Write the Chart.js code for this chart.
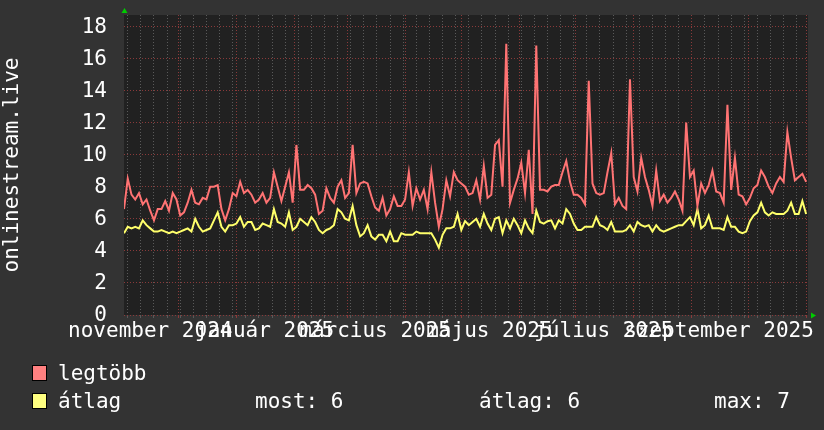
<!DOCTYPE html>
<html><head><meta charset="utf-8">
<script src="https://cdn.jsdelivr.net/npm/chart.js@4/dist/chart.umd.min.js"></script>
<style>
html,body{margin:0;padding:0;background:#333333;}
#wrap{position:relative;width:824px;height:430px;background:#333333;overflow:hidden;}
canvas{position:absolute;left:0;top:0;}
.lg{position:absolute;font-family:'DejaVu Sans Mono',monospace;font-size:21px;color:#ffffff;line-height:25px;white-space:pre;}
.sw{position:absolute;width:15px;height:16px;border:1px solid #000;box-sizing:border-box;}
</style></head><body>
<div id="wrap">
<canvas id="c" width="824" height="430"></canvas>
<div class="sw" style="left:32px;top:365px;background:#ff8080"></div>
<div class="lg" style="left:58px;top:361px">legtöbb</div>
<div class="sw" style="left:32px;top:393px;background:#ffff80"></div>
<div class="lg" style="left:58px;top:389px">átlag</div>
<div class="lg" style="left:255px;top:389px">most: 6</div>
<div class="lg" style="left:479px;top:389px">átlag: 6</div>
<div class="lg" style="left:714px;top:389px">max: 7</div>
</div>
<script>
// ---- data ----
const startDate = '2024-11-02';
const endDate = '2025-11-02';
const stepDays = 2;
const yAxisTitle = 'onlinestream.live';
const seriesNames = ['legtöbb', 'átlag'];
const maxUsers = [
6.6,8.5,7.5,7.2,7.6,6.9,7.2,6.5,5.9,6.6,6.6,7.1,6.5,7.6,7.2,6.2,6.4,7.0,7.8,7.0,
6.9,7.3,7.2,8.0,8.0,8.1,6.6,5.9,6.6,7.6,7.4,8.3,7.6,7.8,7.5,7.0,7.2,7.6,7.0,7.3,
8.9,8.0,7.1,8.0,8.9,7.0,10.6,7.8,7.8,8.1,7.9,7.5,6.3,6.5,7.9,7.3,7.0,8.0,8.4,7.3,
7.6,10.6,7.6,8.2,8.3,8.2,7.4,6.7,6.5,7.3,6.2,6.6,7.4,6.8,6.8,7.2,8.9,6.8,7.9,7.2,
7.8,6.6,8.9,7.0,5.5,6.6,8.4,7.4,8.9,8.4,8.2,8.0,7.5,7.6,8.4,7.2,9.3,7.3,7.5,10.6,
10.9,8.0,16.9,7.0,7.8,8.5,9.5,7.6,10.3,6.3,16.8,7.8,7.8,7.7,8.0,8.1,8.1,8.9,9.6,8.3,
7.5,7.5,7.3,6.9,14.6,8.2,7.6,7.5,7.6,8.9,10.1,6.9,7.3,6.8,6.6,14.7,8.6,7.7,9.8,8.6,
7.8,6.8,9.0,7.1,7.5,7.0,7.3,7.7,7.2,6.5,12.0,8.6,9.0,6.8,8.2,7.6,8.1,9.0,7.7,7.6,
7.0,13.1,7.8,9.8,7.5,7.4,6.9,7.3,7.9,8.1,9.0,8.6,8.0,7.6,8.2,8.6,8.3,11.4,9.8,8.4,
8.6,8.8,8.3
];
const avgUsers = [
5.1,5.5,5.4,5.5,5.4,5.9,5.6,5.4,5.2,5.2,5.3,5.2,5.1,5.2,5.1,5.2,5.3,5.4,5.2,6.0,
5.5,5.2,5.3,5.4,5.9,6.4,5.5,5.2,5.6,5.6,5.7,6.1,5.5,5.8,5.8,5.3,5.4,5.7,5.6,5.5,
6.6,5.8,5.7,5.5,6.4,5.3,5.5,6.0,5.8,5.6,6.1,5.8,5.3,5.1,5.3,5.4,5.6,6.6,6.4,6.0,
5.9,6.8,5.6,4.9,5.1,5.6,4.9,4.7,5.0,5.0,4.6,5.2,4.6,4.6,5.1,5.0,5.0,5.0,5.2,5.1,
5.1,5.1,5.1,4.7,4.2,5.0,5.4,5.4,5.5,6.3,5.3,5.85,5.6,5.8,6.0,5.5,6.3,5.7,5.3,6.0,
6.1,5.1,5.9,5.4,6.0,5.6,5.1,5.9,5.4,5.1,6.5,5.8,5.7,5.85,5.9,5.4,5.9,5.7,6.6,6.3,
5.7,5.3,5.3,5.5,5.5,5.5,6.1,5.6,5.5,5.3,5.8,5.2,5.2,5.2,5.3,5.6,5.2,5.8,5.6,5.5,
5.6,5.2,5.6,5.3,5.2,5.3,5.4,5.5,5.6,5.6,5.85,6.1,5.6,6.6,5.4,5.6,6.2,5.4,5.4,5.4,
5.3,6.1,5.5,5.5,5.2,5.1,5.2,5.85,6.2,6.4,7.0,6.4,6.2,6.4,6.3,6.3,6.3,6.5,7.0,6.3,
6.3,7.1,6.3
];
const monthStartDates = ['2024-12-01','2025-01-01','2025-02-01','2025-03-01','2025-04-01','2025-05-01',
  '2025-06-01','2025-07-01','2025-08-01','2025-09-01','2025-10-01','2025-11-01'];
const xTickLabels = ['november 2024','január 2025','március 2025','május 2025','július 2025','szeptember 2025'];
const xTickLabelDates = ['2024-11-16','2025-01-16','2025-03-16','2025-05-16','2025-07-16','2025-09-15T12:00'];
const firstWeekLine = '2024-11-04';
const yMin = 0, yMax = 18.7, yMinorStep = 0.5, yMajorStep = 2;

// ---- helpers ----
const DAY = 86400000;
const t0 = Date.parse(startDate + 'T00:00:00Z');
const dayOf = s => (Date.parse(s.length > 10 ? s + ':00Z' : s + 'T00:00:00Z') - t0) / DAY;
const xMax = dayOf(endDate);
const days = maxUsers.map((_, i) => i * stepDays);
const monthDays = monthStartDates.map(dayOf);
const labelDays = xTickLabelDates.map(dayOf);
const weekDays = [];
for (let d = dayOf(firstWeekLine); d <= xMax; d += 7) weekDays.push(d);

const RED_GRID = '#8a3a3a';
const GRAY_GRID = '#5a5a5a';
const FONT = {family: "'DejaVu Sans Mono', monospace", size: 21};

const xTicks = [];
weekDays.forEach(v => xTicks.push({value: v, kind: 'minor'}));
monthDays.forEach(v => xTicks.push({value: v, kind: 'major'}));
labelDays.forEach((v, i) => xTicks.push({value: v, kind: 'label', text: xTickLabels[i]}));
xTicks.sort((a, b) => a.value - b.value);

const yTicks = [];
for (let v = yMin; v <= yMax + 1e-9; v = Math.round((v + yMinorStep) * 100) / 100) yTicks.push(v);

const zeroPad = s => { s.paddingTop = 0; s.paddingBottom = 0; s.paddingLeft = 0; s.paddingRight = 0; };

const bgPlugin = {
  id: 'bg',
  beforeDraw(chart) {
    const {ctx, chartArea: a} = chart;
    ctx.save();
    ctx.fillStyle = '#333333';
    ctx.fillRect(0, 0, chart.width, chart.height);
    ctx.fillStyle = '#212121';
    ctx.fillRect(a.left, a.top, a.right - a.left, a.bottom - a.top);
    ctx.restore();
  }
};
const arrowPlugin = {
  id: 'arrows',
  afterDraw(chart) {
    const {ctx, chartArea: a} = chart;
    ctx.save();
    ctx.fillStyle = '#00cc00';
    ctx.beginPath();
    ctx.moveTo(a.left - 2.5, a.top - 2);
    ctx.lineTo(a.left + 3.5, a.top - 2);
    ctx.lineTo(a.left + 0.5, a.top - 7);
    ctx.closePath(); ctx.fill();
    ctx.beginPath();
    ctx.moveTo(a.right + 3, a.bottom - 2.5);
    ctx.lineTo(a.right + 3, a.bottom + 3.5);
    ctx.lineTo(a.right + 8, a.bottom + 0.5);
    ctx.closePath(); ctx.fill();
    ctx.restore();
  }
};

new Chart(document.getElementById('c'), {
  type: 'line',
  data: {
    datasets: [
      {label: seriesNames[0], data: days.map((d, i) => ({x: d, y: maxUsers[i]})),
       borderColor: '#ff7373', borderWidth: 2, pointRadius: 0, tension: 0, fill: false},
      {label: seriesNames[1], data: days.map((d, i) => ({x: d, y: avgUsers[i]})),
       borderColor: '#ffff6b', borderWidth: 2, pointRadius: 0, tension: 0, fill: false}
    ]
  },
  options: {
    responsive: false, animation: false, devicePixelRatio: 1,
    layout: {padding: {top: 15, right: 16, bottom: 85, left: 0}},
    plugins: {legend: {display: false}, tooltip: {enabled: false}},
    scales: {
      x: {
        type: 'linear', min: 0, max: xMax,
        afterBuildTicks: s => { s.ticks = xTicks.map(t => ({value: t.value})); },
        afterFit: s => { s.height = 30; zeroPad(s); },
        grid: {
          color: c => {
            const t = xTicks[c.index];
            if (!t) return 'rgba(0,0,0,0)';
            return t.kind === 'major' ? RED_GRID : (t.kind === 'minor' ? GRAY_GRID : 'rgba(0,0,0,0)');
          },
          drawTicks: true, tickLength: 3, lineWidth: 1
        },
        border: {display: false, dash: [1, 2]},
        ticks: {
          autoSkip: false, maxRotation: 0, minRotation: 0, padding: 1,
          color: '#ffffff', font: FONT,
          callback: (v, i) => (xTicks[i] && xTicks[i].kind === 'label') ? xTicks[i].text : ''
        }
      },
      y: {
        min: yMin, max: yMax,
        afterBuildTicks: s => { s.ticks = yTicks.map(v => ({value: v})); },
        afterFit: s => { s.width = 124; zeroPad(s); },
        grid: {
          color: c => (c.tick && Math.abs(c.tick.value % yMajorStep) < 1e-9) ? RED_GRID : GRAY_GRID,
          drawTicks: false, lineWidth: 1
        },
        border: {display: false, dash: [1, 2]},
        ticks: {
          padding: 17, color: '#ffffff', font: FONT, labelOffset: 1,
          callback: v => (Math.abs(v % yMajorStep) < 1e-9) ? String(v) : ''
        },
        title: {display: true, text: yAxisTitle, color: '#ffffff', font: FONT, padding: 0}
      }
    }
  },
  plugins: [bgPlugin, arrowPlugin]
});
</script>
</body></html>
